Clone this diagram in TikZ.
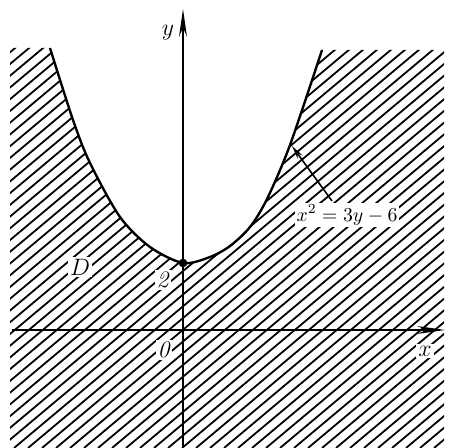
\documentclass[tikz,border=0pt]{standalone}
\usepackage{tikz}
\usetikzlibrary{arrows.meta,positioning}

\begin{document}
\begin{tikzpicture}[
  x=0.01778cm, y=-0.01778cm,
  font=\normalsize,
  axis/.style={-{Stealth[length=14pt,width=4pt]}, line width=0.9pt},
  curve/.style={line width=1.2pt},
  hatch/.style={line width=0.9pt},
  lbl/.style={fill=white, inner sep=1pt, font=\large},
  ptr/.style={-{Stealth[length=7pt,width=3pt]}, line width=0.8pt}
]
\useasboundingbox (0,0) rectangle (450,448);
% region D, hatched below the curve
\begin{scope}
  \clip (10,448) -- (10,48) -- plot[smooth] coordinates {(50,48) (73,120) (90,163) (120,217) (150,247) (183,263) (210,257) (230,246) (250,227) (267,199) (290,145) (322,50)} -- (444,50) -- (444,448) -- cycle;
  \foreach \k in {-36,...,33}
    \draw[hatch] (\k*14,448) -- ++(600,-503);
\end{scope}
\draw[curve] plot[smooth] coordinates {(50,48) (73,120) (90,163) (120,217) (150,247) (183,263) (210,257) (230,246) (250,227) (267,199) (290,145) (322,50)};
% labels
\node[lbl] (ylab) at (168,33) {$y$};
\node[lbl] (xlab) at (425,351) {$x$};
\node[lbl] (zero) at (164,350) {\textit{0}};
\node[lbl] (two) at (163,280) {\textit{2}};
\node[lbl] (dlab) at (80,267) {$D$};
\node[lbl, font=\normalsize] (eq) at (347,215) {$x^2=3y-6$};
% axes
\coordinate (xl) at (12,330);
\coordinate (xr) at (445,330);
\coordinate (yb) at (183,448);
\coordinate (yt) at (183,9);
\draw[axis] (xl) -- (xr);
\draw[axis] (yb) -- (yt);
\coordinate (v) at (183,263);
\fill (v) circle[radius=2.2pt];
% pointer to the curve
\coordinate (tp) at (292,146);
\coordinate (ps) at (332,201);
\draw[ptr] (ps) -- (tp);
\end{tikzpicture}
\end{document}
